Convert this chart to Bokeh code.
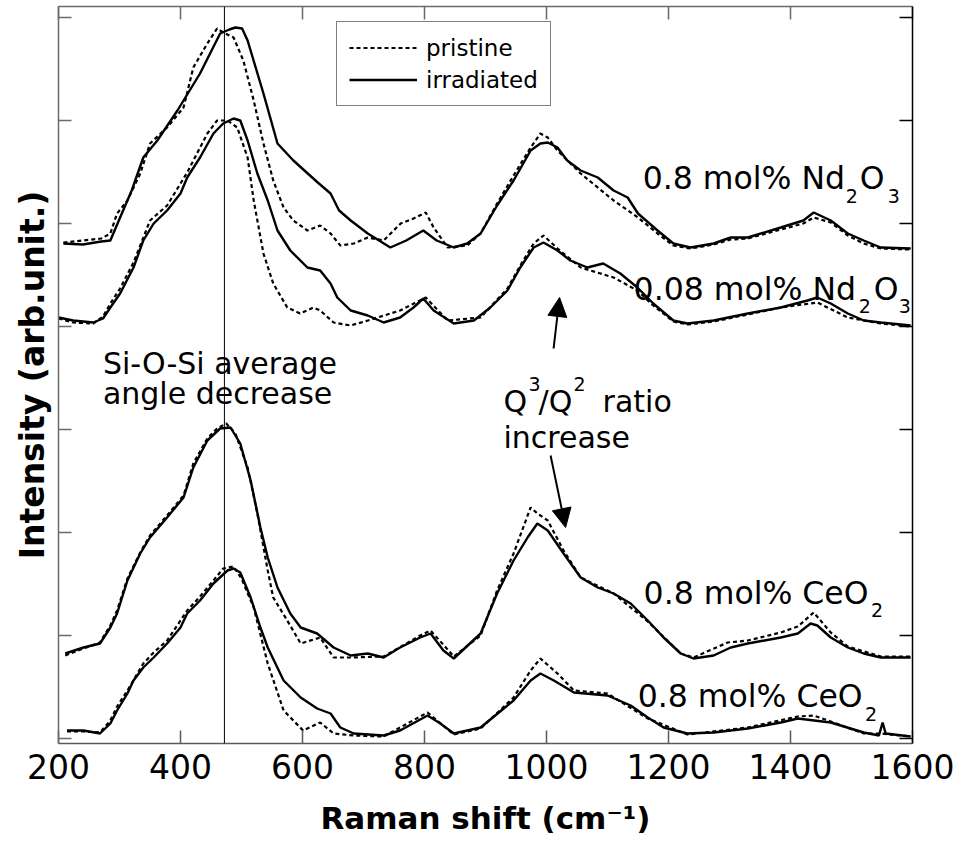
import math
from bokeh.plotting import figure
from bokeh.models import (Range1d, LinearAxis, FixedTicker, Span, Label, Legend,
                          LegendItem, Arrow, NormalHead)
from bokeh.embed import file_html
from bokeh.resources import INLINE

# ---------------- data (Raman shift in cm-1, intensity in arb. units, curves offset) ----
x_ticks = [200, 400, 600, 800, 1000, 1200, 1400, 1600]
y_ticks = [5, 108, 211, 314, 417, 520, 623, 726]
si_o_si_line = 472

# 0.8 mol% Nd2O3
nd08_irr_x = [208, 240, 270, 285, 301, 320, 339, 362, 395, 432, 465, 480, 490, 501, 510,
              536, 559, 585, 625, 646, 660, 679, 707, 744, 770, 798, 820, 848, 870, 892,
              919, 946, 974, 990, 1002, 1018, 1034, 1056, 1084, 1110, 1133, 1150, 1182,
              1208, 1236, 1274, 1302, 1330, 1384, 1421, 1438, 1466, 1494, 1520, 1548, 1597]
nd08_irr_y = [500, 499, 502, 503, 526, 553, 586, 603, 633, 670, 710, 714, 716, 715, 703,
              650, 600, 583, 561, 550, 533, 523, 510, 496, 503, 513, 503, 496, 500, 510,
              538, 563, 593, 600, 601, 596, 583, 573, 566, 553, 546, 530, 513,
              500, 496, 500, 506, 506, 516, 523, 531, 523, 510, 503, 496, 495]
nd08_pri_x = [208, 240, 270, 285, 296, 313, 334, 350, 378, 405, 421, 444, 460, 470, 487,
              503, 520, 536, 552, 569, 585, 608, 629, 646, 662, 684, 707, 733, 761, 782,
              802, 815, 838, 870, 892, 919, 946, 974, 990, 1002, 1018, 1056, 1110, 1150,
              1182, 1208, 1236, 1274, 1302, 1330, 1384, 1421, 1438, 1466, 1494, 1520, 1548, 1597]
nd08_pri_y = [501, 503, 505, 510, 530, 543, 570, 600, 616, 636, 676, 700, 715, 711, 706,
              683, 643, 600, 563, 536, 523, 513, 518, 510, 498, 500, 506, 503, 520, 525,
              531, 516, 496, 498, 510, 540, 568, 596, 610, 606, 593, 570, 543, 526,
              510, 498, 495, 499, 504, 505, 514, 520, 526, 521, 508, 500, 495, 494]

# 0.08 mol% Nd2O3
nd008_irr_x = [200, 224, 257, 273, 285, 301, 323, 339, 356, 378, 400, 411, 432, 454, 470,
               487, 498, 510, 526, 543, 559, 580, 608, 629, 646, 657, 679, 707, 733, 760,
               782, 798, 815, 848, 881, 908, 936, 957, 979, 995, 1018, 1039, 1067, 1093, 1121,
               1149, 1175, 1208, 1231, 1274, 1330, 1384, 1428, 1444, 1466, 1494, 1520, 1548, 1597]
nd008_irr_y = [426, 423, 421, 425, 436, 450, 476, 503, 520, 533, 550, 566, 586, 610, 620,
               625, 623, 603, 570, 543, 513, 493, 476, 473, 460, 446, 433, 428, 421, 426,
               436, 445, 433, 420, 423, 436, 453, 476, 496, 501, 493, 483, 476, 480, 470,
               456, 440, 423, 420, 423, 430, 436, 443, 446, 440, 430, 423, 421, 418]
nd008_pri_x = [200, 224, 257, 273, 285, 301, 323, 350, 378, 411, 444, 460, 477, 493, 510,
               520, 536, 552, 575, 596, 618, 629, 651, 679, 707, 760, 802, 838, 892, 936,
               957, 979, 995, 1018, 1056, 1110, 1149, 1175, 1208, 1231, 1274, 1330, 1384,
               1444, 1494, 1548, 1597]
nd008_pri_y = [425, 421, 420, 427, 440, 455, 481, 523, 538, 571, 610, 623, 623, 616, 586,
               543, 490, 460, 436, 430, 436, 433, 421, 418, 423, 433, 446, 423, 426, 455,
               478, 500, 508, 495, 476, 466, 453, 438, 422, 419, 422, 429, 436,
               441, 426, 420, 417]

# 0.8 mol% CeO2 (upper)
ce08a_irr_x = [211, 241, 268, 285, 296, 313, 334, 350, 378, 405, 421, 444, 465, 482, 498,
               515, 531, 543, 559, 580, 597, 624, 651, 679, 707, 733, 760, 793, 810, 831,
               848, 892, 919, 946, 969, 985, 1002, 1028, 1056, 1084, 1110, 1138, 1166, 1192,
               1220, 1241, 1274, 1302, 1330, 1384, 1412, 1433, 1444, 1466, 1494, 1520, 1548, 1597]
ce08a_irr_y = [90, 96, 100, 116, 130, 163, 190, 206, 226, 246, 276, 303, 315, 316, 300,
               263, 216, 186, 156, 130, 116, 110, 96, 88, 90, 86, 96, 106, 110, 93,
               85, 110, 150, 183, 206, 220, 213, 190, 166, 156, 150, 140, 123, 106,
               90, 85, 88, 96, 100, 106, 110, 120, 118, 106, 96, 90, 86, 86]
ce08a_pri_x = [211, 241, 268, 285, 296, 313, 334, 350, 378, 405, 421, 444, 460, 475, 490,
               510, 526, 543, 552, 575, 597, 629, 651, 679, 733, 793, 810, 848, 892, 919,
               946, 974, 985, 1002, 1028, 1056, 1110, 1166, 1220, 1241, 1297, 1330, 1384,
               1412, 1438, 1466, 1494, 1548, 1597]
ce08a_pri_y = [88, 95, 101, 118, 133, 165, 191, 208, 228, 248, 280, 305, 315, 320, 310,
               276, 230, 173, 146, 123, 100, 106, 86, 86, 87, 108, 113, 87, 108, 153,
               190, 236, 230, 223, 193, 166, 150, 122, 90, 86, 101, 103, 111,
               117, 131, 111, 97, 87, 87]

# 0.8 mol% CeO2 (lower)
ce08b_irr_x = [214, 241, 268, 285, 296, 313, 323, 339, 356, 378, 400, 411, 432, 454, 477,
               487, 498, 515, 531, 543, 569, 597, 624, 646, 662, 684, 733, 760, 805, 826,
               848, 892, 946, 974, 990, 1012, 1045, 1100, 1138, 1166, 1192, 1231, 1274, 1330,
               1384, 1412, 1466, 1520, 1545, 1551, 1556, 1597]
ce08b_irr_y = [13, 13, 10, 20, 33, 50, 63, 76, 86, 100, 116, 130, 143, 160, 173,
               175, 171, 146, 116, 96, 63, 46, 35, 30, 16, 10, 8, 13, 28, 20,
               10, 16, 43, 63, 70, 63, 51, 48, 38, 26, 16, 10, 11, 15,
               21, 25, 21, 11, 8, 21, 10, 7]
ce08b_pri_x = [214, 241, 268, 285, 296, 313, 339, 356, 378, 411, 432, 454, 470, 487, 500,
               520, 543, 569, 601, 629, 651, 684, 733, 805, 848, 892, 946, 974, 990, 1018,
               1045, 1100, 1166, 1231, 1330, 1412, 1438, 1466, 1520, 1548, 1597]
ce08b_pri_y = [12, 12, 11, 23, 37, 53, 80, 91, 103, 133, 147, 163, 175, 177, 165,
               136, 80, 33, 13, 21, 10, 8, 7, 31, 9, 15, 46, 73, 85, 70,
               53, 50, 25, 9, 16, 27, 28, 22, 10, 10, 7]

FONT = "DejaVu Sans"

# ---------------- figure ----------------
p = figure(width=963, height=843, output_backend="svg", toolbar_location=None,
           x_range=Range1d(200, 1600), y_range=Range1d(0, 737),
           min_border_left=58, min_border_right=51, min_border_top=6, min_border_bottom=100)
p.grid.visible = False
p.outline_line_color = None
p.background_fill_color = "white"
p.border_fill_color = "white"


def style_axis(ax, ticks, color, show_labels=False):
    ax.ticker = FixedTicker(ticks=ticks)
    ax.minor_tick_line_color = None
    ax.major_tick_in = 13
    ax.major_tick_out = 0
    ax.axis_line_color = color
    ax.axis_line_width = 1.5
    ax.major_tick_line_color = color
    ax.major_tick_line_width = 1.5
    if show_labels:
        ax.major_label_text_font = FONT
        ax.major_label_text_font_size = "33px"
        ax.major_label_text_color = "black"
        ax.major_label_standoff = 10
    else:
        ax.major_label_text_color = None
        ax.major_label_text_font_size = "1px"
        ax.major_label_standoff = 0


xa = p.xaxis[0]
style_axis(xa, x_ticks, "#5a5a5a", show_labels=True)
xa.axis_label = "Raman shift (cm\u207b\u00b9)"
xa.axis_label_text_font = FONT
xa.axis_label_text_font_style = "bold"
xa.axis_label_text_font_size = "31px"
xa.axis_label_text_color = "black"
xa.axis_label_standoff = 18

ya = p.yaxis[0]
style_axis(ya, y_ticks, "#6a6a6a")
ya.axis_label = "Intensity (arb.unit.)"
ya.axis_label_text_font = FONT
ya.axis_label_text_font_style = "bold"
ya.axis_label_text_font_size = "33px"
ya.axis_label_text_color = "black"
ya.axis_label_standoff = 7

top_ax = LinearAxis()
style_axis(top_ax, x_ticks, "#6a6a6a")
p.add_layout(top_ax, "above")
right_ax = LinearAxis()
style_axis(right_ax, y_ticks, "black")
p.add_layout(right_ax, "right")

# curves
DASH = "4 3"
LW_S = 2.4
LW_D = 2.2
pairs = [
    (nd08_pri_x, nd08_pri_y, nd08_irr_x, nd08_irr_y),
    (nd008_pri_x, nd008_pri_y, nd008_irr_x, nd008_irr_y),
    (ce08a_pri_x, ce08a_pri_y, ce08a_irr_x, ce08a_irr_y),
    (ce08b_pri_x, ce08b_pri_y, ce08b_irr_x, ce08b_irr_y),
]
legend_r = None
for i, (px_, py_, ix_, iy_) in enumerate(pairs):
    r_p = p.line(px_, py_, line_color="black", line_width=LW_D, line_dash=DASH)
    r_i = p.line(ix_, iy_, line_color="black", line_width=LW_S)
    if i == 0:
        legend_r = (r_p, r_i)

# vertical reference line
p.add_layout(Span(location=si_o_si_line, dimension="height", line_color="black", line_width=1))

# legend
legend = Legend(items=[LegendItem(label="pristine", renderers=[legend_r[0]]),
                       LegendItem(label="irradiated", renderers=[legend_r[1]])],
                location=(278, 637), orientation="vertical",
                label_text_font=FONT, label_text_font_size="23px", label_text_color="black",
                glyph_width=68, glyph_height=27, label_height=27,
                label_standoff=9, padding=12, spacing=5, margin=0,
                border_line_color="black", border_line_width=1,
                background_fill_color="white", background_fill_alpha=1)
p.add_layout(legend)


def lab(x, y, text, size="30px", bold=False, align="left", baseline="alphabetic", angle=0.0):
    p.add_layout(Label(x=x, y=y, text=text, text_font=FONT, text_font_size=size,
                       text_font_style="bold" if bold else "normal", text_color="black",
                       text_align=align, text_baseline=baseline, angle=angle))


MAIN = "31.5px"
SUB = "19px"
# sample labels
lab(1157.6, 566, "0.8 mol% Nd", MAIN)
lab(1490.6, 548, "2", SUB)
lab(1513.6, 566, "O", MAIN)
lab(1559.5, 548, "3", SUB)

lab(1142.8, 455, "0.08 mol% Nd", MAIN)
lab(1511.9, 438, "2", SUB)
lab(1536.5, 455, "O", MAIN)
lab(1577.5, 438, "3", SUB)

lab(1159.2, 151, "0.8 mol% CeO", MAIN)
lab(1532.0, 134, "2", SUB)

lab(1149.4, 48, "0.8 mol% CeO", MAIN)
lab(1522.0, 30, "2", SUB)

# annotations
lab(272.8, 380, "Si-O-Si average", "30px")
lab(272.8, 350, "angle decrease", "30px")

lab(929.5, 342, "Q", "30px")
lab(970.6, 360, "3", SUB)
lab(987.0, 342, "/Q", "30px")
lab(1044.4, 360, "2", SUB)
lab(1092.0, 342, "ratio", "30px")
lab(929.5, 306, "increase", "30px")

p.add_layout(Arrow(end=NormalHead(size=19, fill_color="black", line_color="black"),
                   x_start=1011.6, y_start=395, x_end=1021.4, y_end=446,
                   line_color="black", line_width=2))
p.add_layout(Arrow(end=NormalHead(size=19, fill_color="black", line_color="black"),
                   x_start=1006.7, y_start=288, x_end=1031.3, y_end=216,
                   line_color="black", line_width=2))

open("out.html", "w").write(file_html(p, INLINE))
